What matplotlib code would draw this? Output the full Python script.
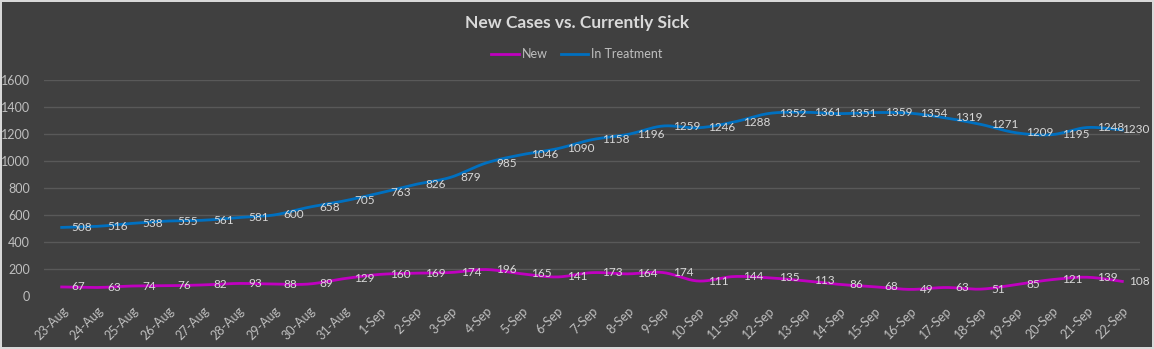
import numpy as np
import matplotlib.pyplot as plt

dates = ["23-Aug", "24-Aug", "25-Aug", "26-Aug", "27-Aug", "28-Aug", "29-Aug", "30-Aug",
         "31-Aug", "1-Sep", "2-Sep", "3-Sep", "4-Sep", "5-Sep", "6-Sep", "7-Sep", "8-Sep",
         "9-Sep", "10-Sep", "11-Sep", "12-Sep", "13-Sep", "14-Sep", "15-Sep", "16-Sep",
         "17-Sep", "18-Sep", "19-Sep", "20-Sep", "21-Sep", "22-Sep"]
new_cases = [67, 63, 74, 76, 82, 93, 88, 89, 129, 160, 169, 174, 196, 165, 141, 173, 164,
             174, 111, 144, 135, 113, 86, 68, 49, 63, 51, 85, 121, 139, 108]
in_treatment = [508, 516, 538, 555, 561, 581, 600, 658, 705, 763, 826, 879, 985, 1046, 1090,
                1158, 1196, 1259, 1246, 1288, 1352, 1361, 1351, 1359, 1354, 1319, 1271,
                1209, 1195, 1248, 1230]

BG = "#404040"
TXT = "#d9d9d9"
GRID = "#595959"
C_NEW = "#c000c0"
C_TREAT = "#0070c0"


def smooth(y, n=20):
    # Catmull-Rom style bezier through every point, like a spreadsheet "smoothed line"
    y = np.asarray(y, dtype=float)
    x = np.arange(len(y), dtype=float)
    px = np.concatenate([[x[0]], x, [x[-1]]])
    py = np.concatenate([[y[0]], y, [y[-1]]])
    xs, ys = [], []
    t = np.linspace(0, 1, n, endpoint=False)
    for i in range(1, len(px) - 2):
        p0 = np.array([px[i], py[i]])
        p3 = np.array([px[i + 1], py[i + 1]])
        p1 = p0 + (np.array([px[i + 1], py[i + 1]]) - np.array([px[i - 1], py[i - 1]])) / 6
        p2 = p3 - (np.array([px[i + 2], py[i + 2]]) - np.array([px[i], py[i]])) / 6
        b = ((1 - t) ** 3)[:, None] * p0 + (3 * (1 - t) ** 2 * t)[:, None] * p1 \
            + (3 * (1 - t) * t ** 2)[:, None] * p2 + (t ** 3)[:, None] * p3
        xs.extend(b[:, 0])
        ys.extend(b[:, 1])
    xs.append(x[-1])
    ys.append(y[-1])
    return np.array(xs), np.array(ys)


plt.rcParams['font.family'] = ['Lato', 'DejaVu Sans']

fig = plt.figure(figsize=(11.54, 3.49), dpi=100)
fig.patch.set_facecolor(BG)
fig.patch.set_edgecolor("#d9d9d9")
fig.patch.set_linewidth(1.5)

ax = fig.add_axes([44 / 1154, 53 / 349, 1096 / 1154, 216 / 349])
ax.set_facecolor(BG)
x = np.arange(len(dates))

sx, sy = smooth(new_cases)
ax.plot(sx, sy, color=C_NEW, lw=2, label="New", zorder=3)
sx, sy = smooth(in_treatment)
ax.plot(sx, sy, color=C_TREAT, lw=2, label="In Treatment", zorder=3)

# value labels sit just right of each point; the last one is pulled back inside the frame
for series in (new_cases, in_treatment):
    for i, v in enumerate(series):
        if i == len(series) - 1:
            ax.annotate(str(v), (i, v), xytext=(27, 0), textcoords="offset pixels",
                        ha="right", va="center", color=TXT, fontsize=8.5, zorder=4)
        else:
            ax.annotate(str(v), (i, v), xytext=(10, 0), textcoords="offset pixels",
                        ha="left", va="center", color=TXT, fontsize=8.5, zorder=4)

ax.set_xlim(-0.5, len(dates) - 0.5)
ax.set_ylim(0, 1600)
ax.set_yticks(range(0, 1601, 200))
for yv in range(200, 1601, 200):
    ax.axhline(yv, color=GRID, lw=1, zorder=1)
ax.set_xticks(x)
ax.set_xticklabels(dates, rotation=45, ha="right", rotation_mode="anchor")
ax.tick_params(axis="both", length=0, colors="#bfbfbf", labelsize=9)
ax.tick_params(axis="y", pad=10)
ax.tick_params(axis="x", pad=6)
for s in ax.spines.values():
    s.set_visible(False)

fig.text(0.5, 1 - 23 / 349, "New Cases vs. Currently Sick", ha="center", va="center",
         color=TXT, fontsize=12.5, fontweight="bold")
leg = ax.legend(loc="center", bbox_to_anchor=(0.5, 1 - 54 / 349), bbox_transform=fig.transFigure,
                ncol=2, frameon=False, fontsize=9, handlelength=2.2, columnspacing=1.0,
                handletextpad=0.25)
for t in leg.get_texts():
    t.set_color("#bfbfbf")

fig.savefig("out.png", dpi=100, facecolor=BG, edgecolor=fig.get_edgecolor())
